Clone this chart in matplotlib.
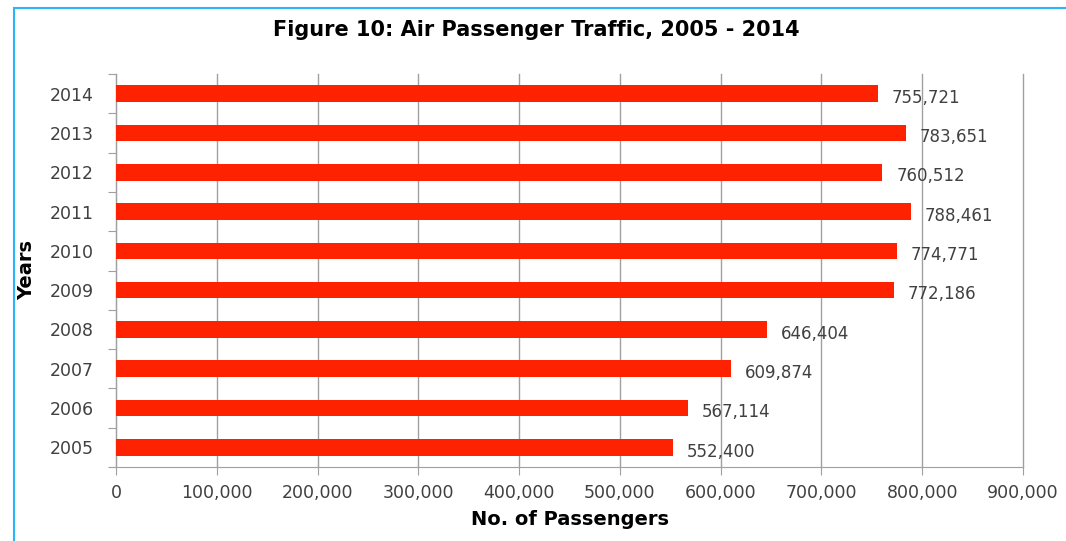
import numpy as np
import matplotlib.pyplot as plt
from matplotlib.patches import Rectangle
from matplotlib.ticker import FuncFormatter

years = ['2005', '2006', '2007', '2008', '2009', '2010', '2011', '2012', '2013', '2014']
passengers = [552400, 567114, 609874, 646404, 772186, 774771, 788461, 760512, 783651, 755721]

fig = plt.figure(figsize=(10.66, 5.41), dpi=100)
ax = fig.add_axes([0.1088, 0.1368, 0.8509, 0.7264])

# cadre bleu autour du graphique
fig.patches.append(Rectangle((14/1066, -0.05), 1.2, 1 - 8/541 + 0.05, transform=fig.transFigure,
                             fill=False, edgecolor='#29B6F6', linewidth=1.5))

pos = np.arange(len(years))
ax.barh(pos, passengers, height=0.42, color='#FF2200', zorder=3)

for p, v in zip(pos, passengers):
    ax.annotate(f"{v:,}", (v, p), xytext=(10, -3), textcoords='offset points',
                va='center', ha='left', fontsize=12, color='#404040')

ax.set_xlim(0, 900000)
ax.set_ylim(-0.5, len(years) - 0.5)
ax.set_xticks(np.arange(0, 900001, 100000))
ax.xaxis.set_major_formatter(FuncFormatter(lambda x, _: f"{int(x):,}"))
ax.tick_params(axis='x', length=6, color='#A0A0A0', labelsize=12.5, labelcolor='#404040', pad=6)

ax.set_yticks(np.arange(-0.5, len(years), 1))
ax.set_yticklabels([])
ax.set_yticks(pos, minor=True)
ax.set_yticklabels(years, minor=True)
ax.tick_params(axis='y', which='major', length=6, color='#A0A0A0')
ax.tick_params(axis='y', which='minor', length=0, labelsize=12.5, labelcolor='#404040', pad=16)

ax.grid(axis='x', color='#A0A0A0', linewidth=1, zorder=0)
for line in ax.get_xgridlines():
    line.set_clip_on(False)
for s in ['top', 'right']:
    ax.spines[s].set_visible(False)
for s in ['left', 'bottom']:
    ax.spines[s].set_color('#A0A0A0')

ax.set_xlabel("No. of Passengers", fontsize=14, fontweight='bold', labelpad=6)
ax.set_ylabel("Years", fontsize=14, fontweight='bold', labelpad=10)
fig.text(0.503, 0.945, "Figure 10: Air Passenger Traffic, 2005 - 2014", ha='center', va='center',
         fontsize=15, fontweight='bold')

fig.savefig('out.png', dpi=100)
